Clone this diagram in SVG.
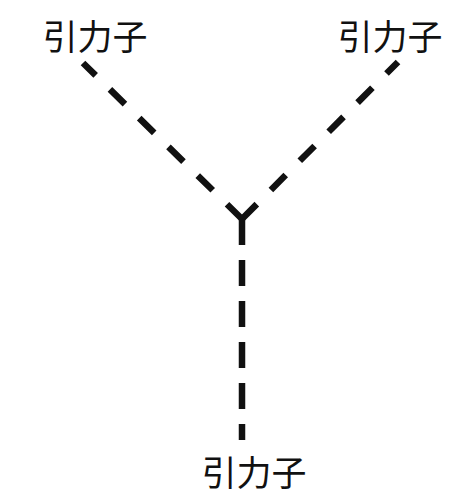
<svg xmlns="http://www.w3.org/2000/svg" width="471" height="500" viewBox="0 0 471 500">
<style>
.lbl{font-family:"Noto Sans CJK SC","Noto Sans CJK JP",sans-serif;font-size:35px;fill:#111;text-anchor:middle}
.diag{stroke:#111;stroke-width:6.5;fill:none;stroke-dasharray:21 20;stroke-linecap:butt}
.vert{stroke:#111;stroke-width:6.5;fill:none;stroke-dasharray:26 15;stroke-linecap:butt}
</style>
<rect width="471" height="500" fill="#fff"/>
<g id="connectors">
<line class="diag" x1="242" y1="219" x2="83" y2="63"/>
<line class="diag" x1="242" y1="219" x2="398" y2="62"/>
<line class="vert" x1="242" y1="219" x2="242" y2="440"/>
</g>
<g id="node-top-left"><text class="lbl" x="95" y="50">引力子</text></g>
<g id="node-top-right"><text class="lbl" x="390" y="50">引力子</text></g>
<g id="node-bottom"><text class="lbl" x="254" y="486">引力子</text></g>
</svg>
